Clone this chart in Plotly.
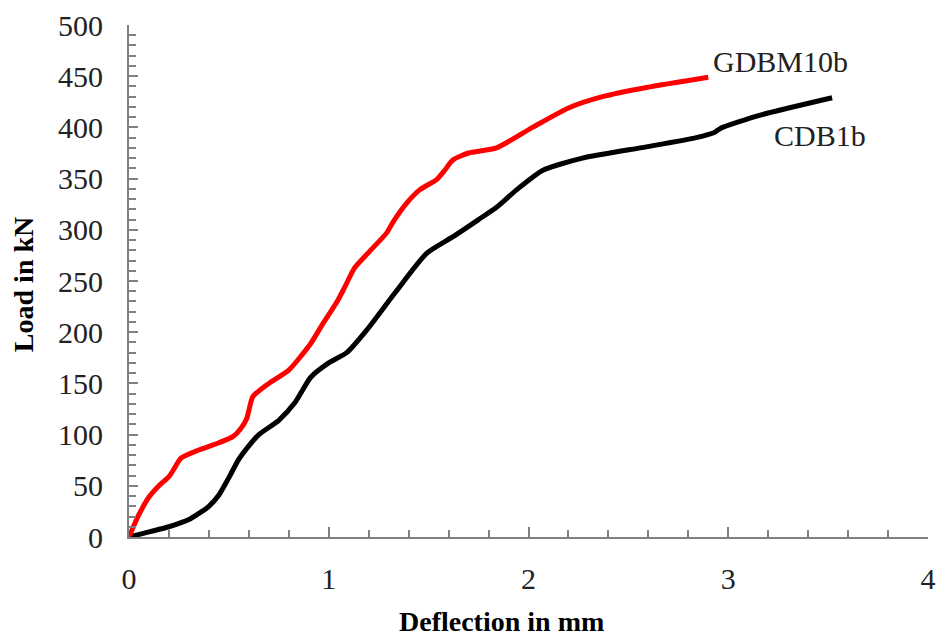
import plotly.graph_objects as go

# GDBM10b (red)
gdbm_x = [0, 0.05, 0.10, 0.15, 0.20, 0.23, 0.26, 0.35, 0.45, 0.52, 0.56, 0.59, 0.62, 0.70, 0.80, 0.91,
          0.96, 1.045, 1.08, 1.13, 1.20, 1.29, 1.32, 1.39, 1.455, 1.54, 1.58, 1.62, 1.70, 1.84, 2.02,
          2.20, 2.37, 2.59, 2.90]
gdbm_y = [0, 22, 39, 50, 59, 68, 77, 85, 92, 98, 106, 116, 137, 150, 163, 189,
          205, 231, 244, 263, 278, 297, 307, 326, 339, 349, 358, 368, 375, 380, 400,
          419, 430, 439, 449]

# CDB1b (black)
cdb_x = [0, 0.1, 0.2, 0.3, 0.35, 0.40, 0.45, 0.50, 0.55, 0.6, 0.65, 0.75, 0.83, 0.91, 1.0, 1.09, 1.19, 1.33,
         1.49, 1.62, 1.75, 1.84, 1.94, 2.07, 2.27, 2.59, 2.84, 2.93, 2.96, 3.16, 3.52]
cdb_y = [0, 5, 10, 17, 23, 30, 41, 58, 76, 89, 100, 114, 131, 156, 170, 180, 202, 238,
         277, 293, 310, 322, 339, 358, 370, 381, 390, 395, 399, 412, 429]

series_names = ["GDBM10b", "CDB1b"]
x_title = "Deflection in mm"
y_title = "Load in kN"

FONT = "Liberation Serif, Times New Roman, serif"

fig = go.Figure()
fig.add_trace(go.Scatter(x=cdb_x, y=cdb_y, mode="lines", name=series_names[1],
                         line=dict(color="#000000", width=5, shape="spline", smoothing=0.6)))
fig.add_trace(go.Scatter(x=gdbm_x, y=gdbm_y, mode="lines", name=series_names[0],
                         line=dict(color="#FF0000", width=5, shape="spline", smoothing=0.6)))

axis_col = "#7f7f7f"
fig.update_xaxes(range=[0, 4], dtick=1, tick0=0, showgrid=False, zeroline=False,
                 showline=True, linecolor=axis_col, linewidth=2,
                 ticks="inside", ticklen=10, tickwidth=1.5, tickcolor=axis_col,
                 minor=dict(dtick=0.2, ticks="inside", ticklen=7, tickwidth=1.5, tickcolor=axis_col),
                 tickfont=dict(family=FONT, size=30, color="#222"), ticklabelstandoff=14)
fig.update_yaxes(range=[0, 500], dtick=50, tick0=0, showgrid=False, zeroline=False,
                 showline=True, linecolor=axis_col, linewidth=2,
                 ticks="inside", ticklen=9, tickwidth=1.5, tickcolor=axis_col,
                 minor=dict(dtick=10, ticks="inside", ticklen=7, tickwidth=1.5, tickcolor=axis_col),
                 tickfont=dict(family=FONT, size=30, color="#222"), ticklabelstandoff=18)

fig.add_annotation(x=0.466, y=-0.166, xref="paper", yref="paper", text="<b>" + x_title + "</b>",
                   showarrow=False, font=dict(family=FONT, size=28, color="#000"),
                   xanchor="center", yanchor="middle")
fig.add_annotation(x=-0.1326, y=0.492, xref="paper", yref="paper", text="<b>" + y_title + "</b>",
                   showarrow=False, textangle=-90, font=dict(family=FONT, size=28, color="#000"),
                   xanchor="center", yanchor="middle")
fig.add_annotation(x=3.26, y=464, text=series_names[0], showarrow=False,
                   font=dict(family=FONT, size=30, color="#222"), xanchor="center", yanchor="middle")
fig.add_annotation(x=3.46, y=392, text=series_names[1], showarrow=False,
                   font=dict(family=FONT, size=30, color="#222"), xanchor="center", yanchor="middle")

fig.update_layout(width=944, height=639, showlegend=False,
                  plot_bgcolor="white", paper_bgcolor="white",
                  margin=dict(l=129, r=8, t=25, b=102))

fig.write_html("out.html")
